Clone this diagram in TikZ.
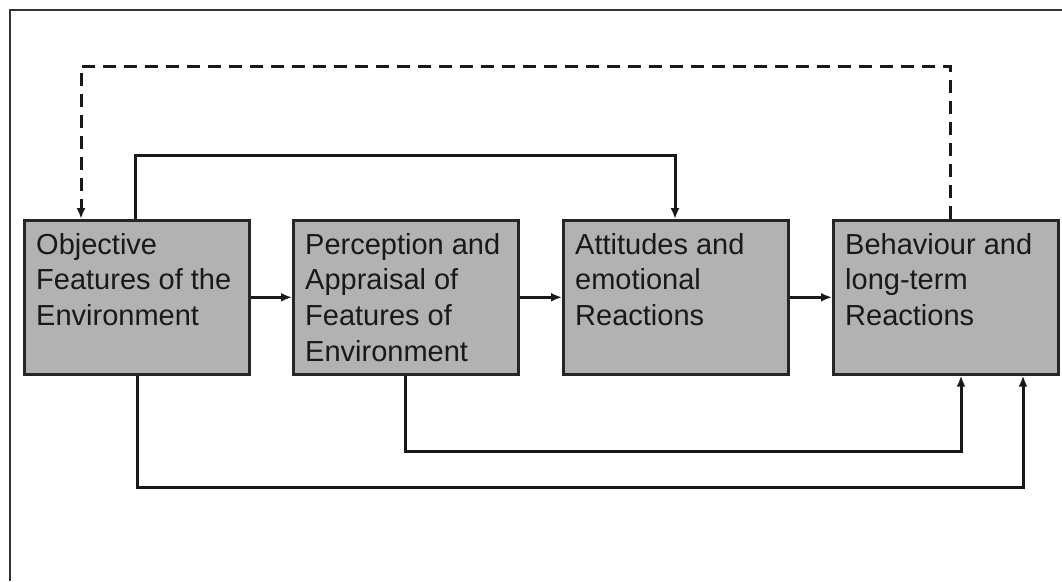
\documentclass[tikz,border=0pt]{standalone}
\usepackage{fontspec}
\setmainfont{Liberation Sans}
\usetikzlibrary{arrows.meta}
\begin{document}
\begin{tikzpicture}[x=1pt,y=-1pt,
  box/.style={draw=black!85,line width=2.6pt,fill=black!30,minimum width=225pt,
    minimum height=154pt,inner sep=0pt,anchor=north west},
  lbl/.style={anchor=north west,inner sep=0pt,align=left,
    font=\fontsize{29}{35.7}\selectfont,text=black!90},
  link/.style={line width=3pt,draw=black!90,-{Latex[length=11pt,width=9pt]}},
  feedback/.style={link,line width=3pt,dash pattern=on 13pt off 8pt},
]
\useasboundingbox (0,0) rectangle (1062,581);
% outer frame
\draw[line width=1.8pt,black!80] (10,581) -- (10,10) -- (1062,10);

% the four stages
\node[box] (b1) at (23,219) {};
\node[box] (b2) at (292,219) {};
\node[box] (b3) at (562,219) {};
\node[box] (b4) at (832,219) {};

\node[lbl] (t1) at (36,233) {Objective\\Features of the\\Environment};
\node[lbl] (t2) at (305,233) {Perception and\\Appraisal of\\Features of\\Environment};
\node[lbl] (t3) at (575,233) {Attitudes and\\emotional\\Reactions};
\node[lbl] (t4) at (845,233) {Behaviour and\\long-term\\Reactions};

% direct sequence
\draw[link] (b1.east) -- (b2.west);
\draw[link] (b2.east) -- (b3.west);
\draw[link] (b3.east) -- (b4.west);

% routing points
\coordinate (topL) at (135,155);
\coordinate (topR) at (675,155);
\coordinate (fbR) at (950,66);
\coordinate (fbL) at (81,66);
\coordinate (midL) at (405,451);
\coordinate (midR) at (961,451);
\coordinate (lowL) at (137,487);
\coordinate (lowR) at (1023,487);

% skip connection above
\draw[link] (b1.north -| topL) -- (topL) -- (topR) -- (b3.north -| topR);
% feedback loop
\draw[feedback] (b4.north -| fbR) -- (fbR) -- (fbL) -- (b1.north -| fbL);
% connections below
\draw[link] (b2.south -| midL) -- (midL) -- (midR) -- (b4.south -| midR);
\draw[link] (b1.south -| lowL) -- (lowL) -- (lowR) -- (b4.south -| lowR);
\end{tikzpicture}
\end{document}
